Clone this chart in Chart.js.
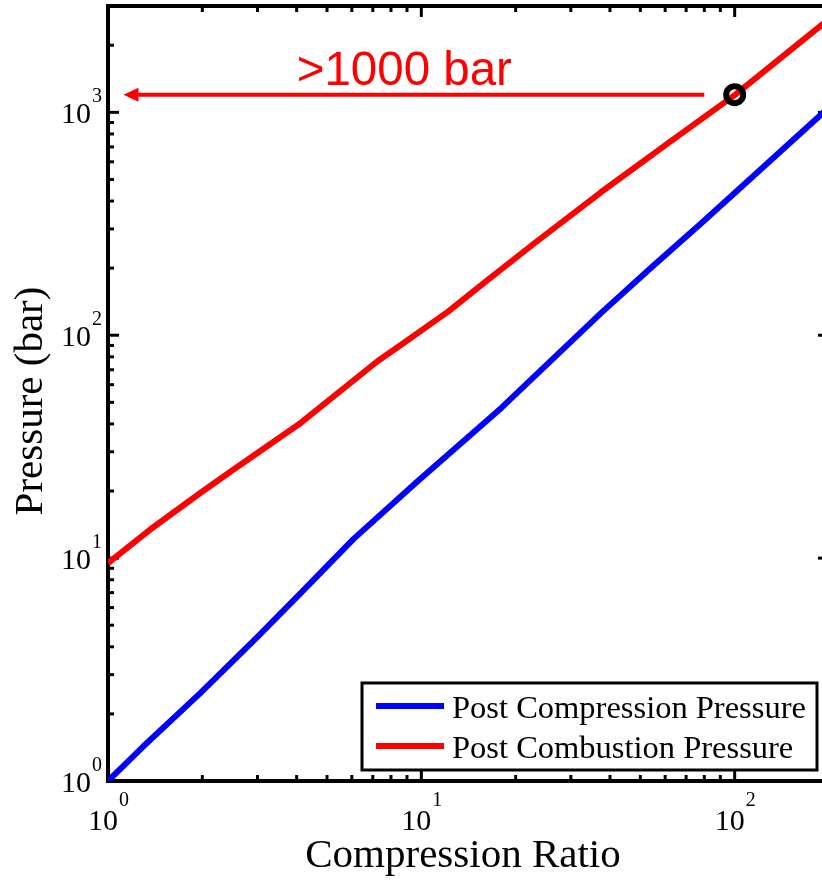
<!DOCTYPE html>
<html>
<head>
<meta charset="utf-8">
<script src="https://cdn.jsdelivr.net/npm/chart.js@4.4.1/dist/chart.umd.min.js"></script>
<style>
  html, body { margin: 0; padding: 0; background: #fff; overflow: hidden; }
  #wrap { width: 840px; height: 881px; }
</style>
</head>
<body>
<div id="wrap"><canvas id="chart" width="840" height="881"></canvas></div>
<script>
// Post compression curve
const compRatioA = [1, 1.29, 1.97, 3.0, 4.12, 6.08, 9.75, 18.0, 37.5, 54.3, 78.4, 100, 192.7, 200];
const compPressure = [1, 1.42, 2.48, 4.43, 6.97, 12.2, 22.2, 47.2, 126, 202, 319, 435, 1003, 1050];

// Post combustion curve
const compRatioB = [1, 1.36, 1.97, 2.51, 4.12, 7.26, 8.6, 12.2, 16.3, 22.9, 37.5, 61.5, 100, 192.7, 200];
const combPressure = [9.5, 13.4, 19.6, 24.9, 40.4, 76.6, 90.4, 128, 177, 258, 439, 729, 1195, 2515, 2620];

const seriesNames = ["Post Compression Pressure", "Post Combustion Pressure"];

// Axis ranges and decade labels
const xRange = [1, 200];
const yRange = [1, 3000];
const xDecades = [1, 10, 100];
const xExponents = ["0", "1", "2"];
const yDecades = [1, 10, 100, 1000];
const yExponents = ["0", "1", "2", "3"];

// The ">1000 bar" callout
const markPoint = [100, 1200];
const arrowFrom = [80, 1200];
const arrowTo = [1.12, 1200];
const calloutText = ">1000 bar";
const calloutAt = [4.0, 1330];

const serif = '"Liberation Serif", "Times New Roman", serif';
const sans = '"Liberation Sans", Arial, sans-serif';

const toPoints = (xs, ys) => xs.map((x, i) => ({ x, y: ys[i] }));

// minor tick positions, 2..9 in each decade
function minorTicks(decades, max) {
	const out = [];
	decades.forEach((d) => {
		for (let m = 2; m <= 9; m++) if (m * d <= max) out.push(m * d);
	});
	return out;
}

function line(ctx, x1, y1, x2, y2) {
	ctx.beginPath();
	ctx.moveTo(x1, y1);
	ctx.lineTo(x2, y2);
	ctx.stroke();
}

// Axes box, inward ticks and 10^n labels
const axesBox = {
	id: "axesBox",
	beforeDatasetsDraw(chart) {
		const { ctx, chartArea: a, scales } = chart;
		const xs = scales.x, ys = scales.y;
		ctx.save();
		ctx.strokeStyle = "#000";
		ctx.lineWidth = 3;
		const xm = minorTicks(xDecades, xRange[1]);
		const ym = minorTicks(yDecades, yRange[1]);
		xDecades.concat(xm).forEach((v) => {
			const len = xDecades.includes(v) ? 11 : 6;
			const p = xs.getPixelForValue(v);
			line(ctx, p, a.bottom, p, a.bottom - len);
			line(ctx, p, a.top, p, a.top + len);
		});
		yDecades.concat(ym).forEach((v) => {
			const len = yDecades.includes(v) ? 11 : 6;
			const p = ys.getPixelForValue(v);
			line(ctx, a.left, p, a.left + len, p);
			line(ctx, a.right, p, a.right - len, p);
		});
		ctx.lineWidth = 4;
		ctx.strokeRect(a.left, a.top, a.right - a.left, a.bottom - a.top);

		// tick labels
		ctx.fillStyle = "#000";
		ctx.textBaseline = "alphabetic";
		xDecades.forEach((v, i) => {
			const p = xs.getPixelForValue(v);
			ctx.font = "30px " + serif;
			ctx.textAlign = "right";
			ctx.fillText("10", p + 10, a.bottom + 49);
			ctx.font = "20px " + serif;
			ctx.textAlign = "left";
			ctx.fillText(xExponents[i], p + 11, a.bottom + 25);
		});
		yDecades.forEach((v, i) => {
			const p = ys.getPixelForValue(v);
			ctx.font = "30px " + serif;
			ctx.textAlign = "right";
			ctx.fillText("10", a.left - 17, p + 11);
			ctx.font = "20px " + serif;
			ctx.textAlign = "left";
			ctx.fillText(yExponents[i], a.left - 16, p - 10);
		});

		// axis titles
		ctx.font = "41px " + serif;
		ctx.textAlign = "center";
		ctx.fillText("Compression Ratio", 463, a.bottom + 86);
		ctx.save();
		ctx.translate(42, 401);
		ctx.rotate(-Math.PI / 2);
		ctx.fillText("Pressure (bar)", 0, 0);
		ctx.restore();
		ctx.restore();
	},
	afterDatasetsDraw(chart) {
		const { ctx, scales } = chart;
		const xs = scales.x, ys = scales.y;
		ctx.save();

		// legend
		const box = { l: 362, t: 683, r: 817, b: 770 };
		ctx.fillStyle = "#fff";
		ctx.fillRect(box.l, box.t, box.r - box.l, box.b - box.t);
		ctx.strokeStyle = "#000";
		ctx.lineWidth = 3;
		ctx.strokeRect(box.l, box.t, box.r - box.l, box.b - box.t);
		seriesNames.forEach((name, i) => {
			const ds = chart.data.datasets.find((d) => d.label === name);
			const yy = 706 + i * 40;
			ctx.strokeStyle = ds.borderColor;
			ctx.lineWidth = 6;
			line(ctx, 376, yy, 444, yy);
			ctx.fillStyle = "#000";
			ctx.font = "32.5px " + serif;
			ctx.textAlign = "left";
			ctx.textBaseline = "alphabetic";
			ctx.fillText(name, 452, yy + 12);
		});

		// arrow and callout text
		const x1 = xs.getPixelForValue(arrowFrom[0]);
		const x2 = xs.getPixelForValue(arrowTo[0]);
		const yA = ys.getPixelForValue(arrowFrom[1]);
		ctx.strokeStyle = "#ff0000";
		ctx.fillStyle = "#ff0000";
		ctx.lineWidth = 4;
		line(ctx, x1, yA, x2 + 12, yA);
		ctx.beginPath();
		ctx.moveTo(x2, yA);
		ctx.lineTo(x2 + 15, yA - 7);
		ctx.lineTo(x2 + 15, yA + 7);
		ctx.closePath();
		ctx.fill();
		ctx.font = "47.5px " + sans;
		ctx.textAlign = "left";
		ctx.fillText(calloutText, xs.getPixelForValue(calloutAt[0]), ys.getPixelForValue(calloutAt[1]));
		ctx.restore();
	},
};

new Chart(document.getElementById("chart"), {
	type: "scatter",
	data: {
		datasets: [
			{
				label: "mark",
				data: [{ x: markPoint[0], y: markPoint[1] }],
				showLine: false,
				pointStyle: "circle",
				pointRadius: 8.5,
				pointBorderWidth: 6,
				pointBorderColor: "#000",
				pointBackgroundColor: "rgba(0,0,0,0)",
			},
			{
				label: seriesNames[0],
				data: toPoints(compRatioA, compPressure),
				showLine: true,
				borderColor: "#0000ff",
				borderWidth: 6,
				borderJoinStyle: "round",
				pointRadius: 0,
			},
			{
				label: seriesNames[1],
				data: toPoints(compRatioB, combPressure),
				showLine: true,
				borderColor: "#ff0000",
				borderWidth: 6,
				borderJoinStyle: "round",
				pointRadius: 0,
			},
		],
	},
	options: {
		responsive: false,
		animation: false,
		layout: { autoPadding: false, padding: { left: 108, top: 6, right: 11, bottom: 100 } },
		plugins: { legend: { display: false }, tooltip: { enabled: false } },
		scales: {
			x: { type: "logarithmic", min: xRange[0], max: xRange[1], display: false },
			y: { type: "logarithmic", min: yRange[0], max: yRange[1], display: false },
		},
	},
	plugins: [axesBox],
});
</script>
</body>
</html>
